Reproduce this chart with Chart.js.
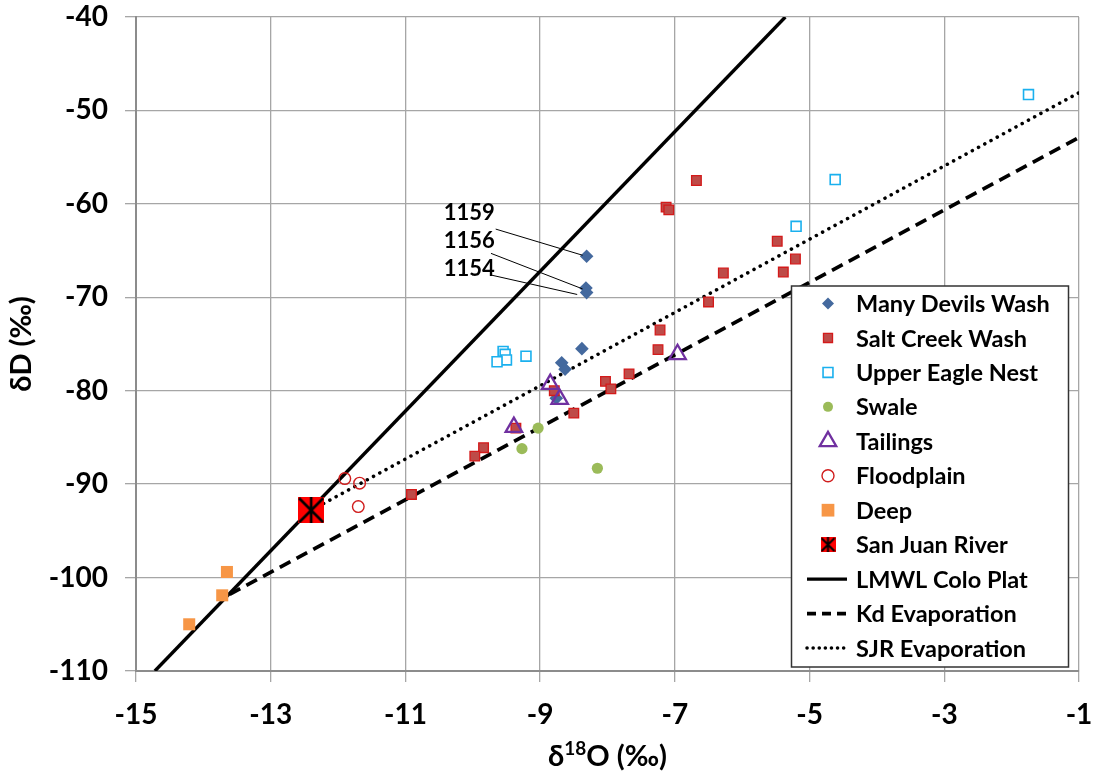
<!DOCTYPE html>
<html>
<head>
<meta charset="utf-8">
<script src="https://cdn.jsdelivr.net/npm/chart.js@4.4.1/dist/chart.umd.min.js"></script>
<style>
  html, body { margin: 0; padding: 0; background: #fff; }
  canvas { display: block; }
</style>
</head>
<body>
<canvas id="isoChart" width="1095" height="776"></canvas>
<script>
// sample groups (δ18O, δD in permil)
const manyDevilsX = [-8.31, -8.32, -8.31, -8.38, -8.68, -8.63, -8.76];
const manyDevilsY = [-65.6, -69.0, -69.5, -75.5, -77.0, -77.7, -80.8];

const saltCreekX = [-6.68, -7.13, -7.09, -5.48, -5.21, -5.39, -6.28, -6.50, -7.22, -7.25, -7.68, -8.03, -7.95, -8.79, -8.50, -9.36, -9.84, -9.97, -10.91];
const saltCreekY = [-57.5, -60.35, -60.64, -64.0, -65.9, -67.3, -67.4, -70.5, -73.5, -75.6, -78.2, -79.0, -79.8, -80.0, -82.4, -84.0, -86.1, -87.0, -91.1];

const eagleNestX = [-1.75, -4.62, -5.20, -9.21, -9.55, -9.52, -9.50, -9.64];
const eagleNestY = [-48.3, -57.4, -62.4, -76.3, -75.8, -76.1, -76.7, -76.9];

const swaleX = [-9.03, -9.27, -8.15];
const swaleY = [-84.0, -86.2, -88.3];

const tailingsX = [-8.85, -8.71, -9.39, -6.96];
const tailingsY = [-79.3, -80.9, -83.9, -76.1];

const floodplainX = [-11.90, -11.68, -11.70];
const floodplainY = [-89.4, -89.9, -92.4];

const deepX = [-13.65, -13.72, -14.21];
const deepY = [-99.4, -101.9, -105.0];

const sanJuanX = [-12.40];
const sanJuanY = [-92.8];

// reference lines (end points)
const lmwlX = [-14.72, -5.36];
const lmwlY = [-110, -40];
const kdEvapX = [-13.61, -1];
const kdEvapY = [-101.8, -52.9];
const sjrEvapX = [-12.40, -1];
const sjrEvapY = [-92.8, -48.1];

const xTickValues = [-15, -13, -11, -9, -7, -5, -3, -1];
const yTickValues = [-110, -100, -90, -80, -70, -60, -50, -40];

const pts = (xs, ys) => xs.map((x, i) => ({ x: x, y: ys[i] }));
const FONT = 'Lato, "Open Sans", sans-serif';

// Excel-style "star" marker: red box with an X and a vertical bar
function sjrMarker(size) {
    const c = document.createElement('canvas');
    c.width = size; c.height = size;
    const g = c.getContext('2d');
    g.fillStyle = '#FF0000';
    g.fillRect(0, 0, size, size);
    g.strokeStyle = '#000';
    g.lineWidth = size > 20 ? 2.6 : 2;
    g.beginPath();
    g.moveTo(1, 1); g.lineTo(size - 1, size - 1);
    g.moveTo(size - 1, 1); g.lineTo(1, size - 1);
    g.moveTo(size / 2, 0); g.lineTo(size / 2, size);
    g.stroke();
    return c;
}

function drawMarker(ctx, style, x, y, r, fill, stroke, lw) {
    ctx.save();
    ctx.beginPath();
    if (style === 'rectRot') {
        ctx.moveTo(x - r, y); ctx.lineTo(x, y - r); ctx.lineTo(x + r, y); ctx.lineTo(x, y + r);
        ctx.closePath();
    } else if (style === 'rect') {
        const s = r * Math.SQRT1_2;
        ctx.rect(x - s, y - s, 2 * s, 2 * s);
    } else if (style === 'circle') {
        ctx.arc(x, y, r, 0, Math.PI * 2);
    } else if (style === 'triangle') {
        for (let k = 0; k < 3; k++) {
            const a = k * 2 * Math.PI / 3;
            const px = x + Math.sin(a) * r, py = y - Math.cos(a) * r;
            if (k === 0) ctx.moveTo(px, py); else ctx.lineTo(px, py);
        }
        ctx.closePath();
    }
    ctx.fillStyle = fill;
    ctx.fill();
    if (lw > 0) { ctx.lineWidth = lw; ctx.strokeStyle = stroke; ctx.stroke(); }
    ctx.restore();
}

const legendBox = {
    id: 'legendBox',
    afterDraw(chart) {
        const ctx = chart.ctx;
        const xs = chart.scales.x, ys = chart.scales.y;

        // well labels with leader lines
        const notes = [
            { text: '1159', tx: -10.43, ty: -61.0, from: [-9.66, -62.7], to: [-8.37, -65.5] },
            { text: '1156', tx: -10.43, ty: -64.0, from: [-9.73, -65.3], to: [-8.37, -69.1] },
            { text: '1154', tx: -10.43, ty: -67.0, from: [-9.74, -67.6], to: [-8.45, -69.7] }
        ];
        ctx.save();
        ctx.strokeStyle = '#000';
        ctx.lineWidth = 1;
        ctx.fillStyle = '#000';
        ctx.font = 'bold 22px ' + FONT;
        ctx.textAlign = 'left';
        ctx.textBaseline = 'middle';
        notes.forEach(n => {
            ctx.beginPath();
            ctx.moveTo(xs.getPixelForValue(n.from[0]), ys.getPixelForValue(n.from[1]));
            ctx.lineTo(xs.getPixelForValue(n.to[0]), ys.getPixelForValue(n.to[1]));
            ctx.stroke();
            ctx.fillText(n.text, xs.getPixelForValue(n.tx), ys.getPixelForValue(n.ty));
        });
        ctx.restore();

        // x axis title with superscript
        ctx.save();
        ctx.fillStyle = '#000';
        ctx.textBaseline = 'middle';
        ctx.textAlign = 'left';
        const big = 'bold 29px ' + FONT, small = 'bold 19px ' + FONT;
        ctx.font = big;
        const w1 = ctx.measureText('δ').width, w3 = ctx.measureText('O (‰)').width;
        ctx.font = small;
        const w2 = ctx.measureText('18').width;
        const cx = (chart.chartArea.left + chart.chartArea.right) / 2;
        let tx = cx - (w1 + w2 + w3) / 2;
        const ty = 757;
        ctx.font = big; ctx.fillText('δ', tx, ty); tx += w1;
        ctx.font = small; ctx.fillText('18', tx, ty - 8); tx += w2;
        ctx.font = big; ctx.fillText('O (‰)', tx, ty);
        ctx.restore();

        // legend
        const bx = 791.5, by = 286, bw = 277, bh = 381;
        ctx.save();
        ctx.fillStyle = '#fff';
        ctx.fillRect(bx, by, bw, bh);
        ctx.strokeStyle = '#333';
        ctx.lineWidth = 1.5;
        ctx.strokeRect(bx, by, bw, bh);
        const mx = 828, textX = 856, row0 = 303.5, rowH = 34.45;
        const legendR = [6, 6.4, 7, 5, 9.5, 6, 9, 0];
        ctx.font = 'bold 23.5px ' + FONT;
        ctx.textBaseline = 'middle';
        ctx.textAlign = 'left';
        chart.data.datasets.forEach((ds, i) => {
            const y = row0 + i * rowH;
            if (ds.showLine) {
                ctx.save();
                ctx.strokeStyle = ds.borderColor;
                ctx.lineWidth = ds.borderWidth;
                ctx.setLineDash(ds.legendDash || []);
                ctx.lineCap = ds.borderCapStyle || 'butt';
                ctx.beginPath();
                ctx.moveTo(807, y); ctx.lineTo(847, y);
                ctx.stroke();
                ctx.restore();
            } else if (ds.pointStyle instanceof HTMLCanvasElement) {
                const m = sjrMarker(15);
                ctx.drawImage(m, mx - 7.5, y - 7.5);
            } else {
                drawMarker(ctx, ds.pointStyle, mx, y, legendR[i], ds.backgroundColor, ds.borderColor, ds.borderWidth);
            }
            ctx.fillStyle = '#000';
            ctx.fillText(ds.label, textX, y + 1);
        });
        ctx.restore();
    }
};

const markerSet = (label, xs, ys, style, r, fill, stroke, lw, order) => ({
    label: label,
    data: pts(xs, ys),
    pointStyle: style,
    pointRadius: r,
    pointHoverRadius: r,
    backgroundColor: fill,
    borderColor: stroke,
    borderWidth: lw,
    showLine: false,
    order: order
});

const lineSet = (label, xs, ys, width, dash, cap, legendDash, order) => ({
    label: label,
    data: pts(xs, ys),
    showLine: true,
    pointRadius: 0,
    borderColor: '#000',
    backgroundColor: '#000',
    borderWidth: width,
    borderDash: dash,
    borderCapStyle: cap,
    legendDash: legendDash,
    fill: false,
    order: order
});

new Chart(document.getElementById('isoChart'), {
    type: 'scatter',
    data: {
        datasets: [
            markerSet('Many Devils Wash', manyDevilsX, manyDevilsY, 'rectRot', 6.8, '#44699E', '#44699E', 0, 10),
            markerSet('Salt Creek Wash', saltCreekX, saltCreekY, 'rect', 6.8, '#BE4B48', '#D41A1A', 1.3, 9),
            markerSet('Upper Eagle Nest', eagleNestX, eagleNestY, 'rect', 7, '#FFFFFF', '#1AB0EE', 1.6, 8),
            markerSet('Swale', swaleX, swaleY, 'circle', 5.6, '#9BBB59', '#9BBB59', 0, 7),
            markerSet('Tailings', tailingsX, tailingsY, 'triangle', 9.5, 'rgba(255,255,255,0)', '#7030A0', 2.3, 6),
            markerSet('Floodplain', floodplainX, floodplainY, 'circle', 5.8, 'rgba(255,255,255,0)', '#D01C1C', 1.4, 5),
            markerSet('Deep', deepX, deepY, 'rect', 8.5, '#F79646', '#F79646', 0, 4),
            markerSet('San Juan River', sanJuanX, sanJuanY, sjrMarker(26), 13, '#FF0000', '#000', 0, 3),
            lineSet('LMWL Colo Plat', lmwlX, lmwlY, 3.4, [], 'butt', [], 13),
            lineSet('Kd Evaporation', kdEvapX, kdEvapY, 3.7, [12, 7], 'butt', [9, 6], 12),
            lineSet('SJR Evaporation', sjrEvapX, sjrEvapY, 3.5, [0.1, 7], 'round', [0.1, 6], 11)
        ]
    },
    options: {
        responsive: false,
        animation: false,
        events: [],
        layout: { padding: { top: 17, right: 16, left: 0, bottom: 0 } },
        plugins: {
            legend: { display: false },
            tooltip: { enabled: false }
        },
        scales: {
            x: {
                type: 'linear',
                min: -15,
                max: -1,
                afterBuildTicks: s => { s.ticks = xTickValues.map(v => ({ value: v })); },
                afterFit: s => { s.height = 105; s.paddingLeft = 0; s.paddingRight = 0; },
                grid: { color: '#A6A6A6', lineWidth: 1.3, tickLength: 11 },
                border: { color: '#8C8C8C', width: 2 },
                ticks: { color: '#000', font: { family: FONT, size: 28, weight: 'bold' }, padding: 16, maxRotation: 0 },
                title: { display: false }
            },
            y: {
                type: 'linear',
                min: -110,
                max: -40,
                afterBuildTicks: s => { s.ticks = yTickValues.map(v => ({ value: v })); },
                afterFit: s => { s.width = 136; s.paddingTop = 0; s.paddingBottom = 0; },
                grid: { color: '#A6A6A6', lineWidth: 1.3, tickLength: 11 },
                border: { color: '#8C8C8C', width: 2 },
                ticks: { color: '#000', font: { family: FONT, size: 28, weight: 'bold' }, padding: 17 },
                title: {
                    display: true,
                    text: 'δD (‰)',
                    color: '#000',
                    font: { family: FONT, size: 29, weight: 'bold' },
                    padding: { top: 4, bottom: 0 }
                }
            }
        }
    },
    plugins: [legendBox]
});
</script>
</body>
</html>
